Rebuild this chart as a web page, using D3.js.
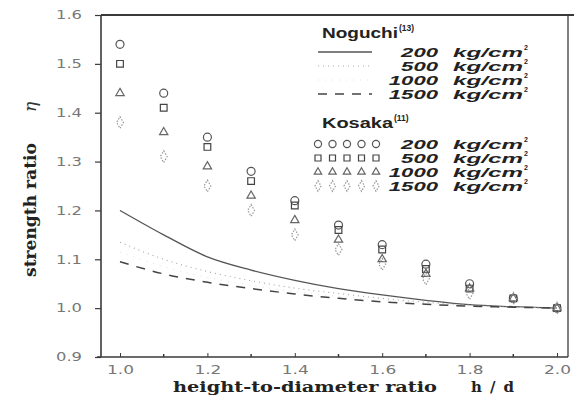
<!DOCTYPE html>
<html>
<head>
<meta charset="utf-8">
<script src="https://cdn.jsdelivr.net/npm/d3@7"></script>
<style>
  body { margin: 0; background: #fff; }
  svg { display: block; }
</style>
</head>
<body>
<svg id="chart" width="576" height="403"></svg>
<script>
// h/d values
const hd = [1.0, 1.1, 1.2, 1.3, 1.4, 1.5, 1.6, 1.7, 1.8, 1.9, 2.0];

// Kosaka measurements (strength ratio)
const kosaka200 = [1.54, 1.44, 1.35, 1.28, 1.22, 1.17, 1.13, 1.09, 1.05, 1.02, 1.0];
const kosaka500 = [1.50, 1.41, 1.33, 1.26, 1.21, 1.16, 1.12, 1.08, 1.04, 1.02, 1.0];
const kosaka1000 = [1.44, 1.36, 1.29, 1.23, 1.18, 1.14, 1.10, 1.07, 1.04, 1.02, 1.0];
const kosaka1500 = [1.38, 1.31, 1.25, 1.20, 1.15, 1.12, 1.09, 1.06, 1.03, 1.02, 1.0];

// Noguchi curves
const noguchi200 = [1.20, 1.15, 1.105, 1.078, 1.057, 1.04, 1.027, 1.016, 1.007, 1.003, 1.0];
const noguchi500 = [1.135, 1.10, 1.075, 1.056, 1.041, 1.03, 1.02, 1.012, 1.006, 1.002, 1.0];
const noguchi1000 = [1.115, 1.085, 1.063, 1.047, 1.034, 1.024, 1.016, 1.01, 1.005, 1.002, 1.0];
const noguchi1500 = [1.095, 1.07, 1.053, 1.04, 1.029, 1.02, 1.013, 1.008, 1.004, 1.002, 1.0];

const xTicks = [1.0, 1.2, 1.4, 1.6, 1.8, 2.0];
const xMinor = [1.1, 1.3, 1.5, 1.7, 1.9];
const yTicks = [0.9, 1.0, 1.1, 1.2, 1.3, 1.4, 1.5, 1.6];
const pressures = ['200', '500', '1000', '1500'];

const svg = d3.select('#chart');
const pLeft = 101, pRight = 568, pTop = 15, pBottom = 357;

const x = d3.scaleLinear().domain([1.0, 2.0]).range([120, 557]);
const y = d3.scaleLinear().domain([0.9, 1.6]).range([pBottom, pTop]);

const ink = '#3a3a3a';
const tickFont = 'DejaVu Sans, sans-serif';

// frame
svg.append('line').attr('x1', pLeft).attr('x2', pRight + 6).attr('y1', pTop).attr('y2', pTop)
  .attr('stroke', ink).attr('stroke-width', 2);
svg.append('line').attr('x1', pRight).attr('x2', pRight).attr('y1', pTop).attr('y2', pBottom)
  .attr('stroke', ink).attr('stroke-width', 1.3);
svg.append('line').attr('x1', pLeft).attr('x2', pLeft).attr('y1', pTop).attr('y2', pBottom)
  .attr('stroke', ink).attr('stroke-width', 1.6);
svg.append('line').attr('x1', pLeft - 4).attr('x2', pRight).attr('y1', pBottom).attr('y2', pBottom)
  .attr('stroke', ink).attr('stroke-width', 1.6);

// y axis
const yAxis = svg.append('g')
  .attr('transform', `translate(${pLeft},0)`)
  .call(d3.axisLeft(y).tickValues(yTicks).tickFormat(d3.format('.1f')).tickSize(6).tickPadding(19));
yAxis.select('.domain').remove();
yAxis.selectAll('.tick line').attr('stroke', ink).attr('stroke-width', 1.2);
yAxis.selectAll('.tick text').attr('fill', '#777').attr('font-family', tickFont)
  .attr('font-size', 12).attr('text-anchor', 'middle')
  .attr('textLength', 26).attr('lengthAdjust', 'spacingAndGlyphs')
  .attr('x', -32);

// x axis
const xAxis = svg.append('g')
  .attr('transform', `translate(0,${pBottom})`)
  .call(d3.axisBottom(x).tickValues(xTicks).tickFormat(d3.format('.1f')).tickSizeInner(-4).tickSizeOuter(0).tickPadding(8));
xAxis.select('.domain').remove();
xAxis.selectAll('.tick line').attr('stroke', ink).attr('stroke-width', 1);
xAxis.selectAll('.tick text').attr('fill', '#777').attr('font-family', tickFont)
  .attr('font-size', 12).attr('textLength', 27).attr('lengthAdjust', 'spacingAndGlyphs');
svg.append('g').selectAll('line').data(xMinor).join('line')
  .attr('x1', d => x(d)).attr('x2', d => x(d))
  .attr('y1', pBottom - 3).attr('y2', pBottom)
  .attr('stroke', ink).attr('stroke-width', 1.5);

// axis titles
const serif = 'DejaVu Serif, serif';
svg.append('text')
  .attr('x', 173).attr('y', 392)
  .attr('font-family', serif).attr('font-weight', 'bold')
  .attr('font-size', 15).attr('fill', '#222')
  .attr('textLength', 264).attr('lengthAdjust', 'spacingAndGlyphs')
  .text('height-to-diameter ratio');
svg.append('text')
  .attr('x', 471).attr('y', 392)
  .attr('font-family', serif).attr('font-weight', 'bold')
  .attr('font-size', 15).attr('fill', '#222')
  .attr('letter-spacing', 8)
  .text('h/d');

svg.append('text')
  .attr('transform', 'translate(36,277) rotate(-90)')
  .attr('font-family', serif).attr('font-weight', 'bold')
  .attr('font-size', 17).attr('fill', '#222')
  .attr('textLength', 134).attr('lengthAdjust', 'spacingAndGlyphs')
  .text('strength ratio');
svg.append('text')
  .attr('transform', 'translate(36,112) rotate(-90)')
  .attr('font-family', serif).attr('font-style', 'italic')
  .attr('font-size', 17).attr('fill', '#333')
  .text('η');

// Noguchi lines
const lineStyles = [
  { data: noguchi200, dash: null, color: '#555', width: 1.3 },
  { data: noguchi500, dash: '1,4', color: '#aaa', width: 1.2 },
  { data: noguchi1000, dash: '1,6', color: '#e2e2e2', width: 1 },
  { data: noguchi1500, dash: '9,8', color: '#444', width: 1.5 }
];
const line = d3.line().x((d, i) => x(hd[i])).y(d => y(d)).curve(d3.curveMonotoneX);
lineStyles.forEach(s => {
  svg.append('path').datum(s.data)
    .attr('d', line)
    .attr('fill', 'none')
    .attr('stroke', s.color)
    .attr('stroke-width', s.width)
    .attr('stroke-dasharray', s.dash);
});

// markers
const markerStyles = [
  { data: kosaka200, type: d3.symbolCircle, size: 50, color: '#555', dash: null },
  { data: kosaka500, type: d3.symbolSquare, size: 45, color: '#444', dash: null },
  { data: kosaka1000, type: d3.symbolTriangle, size: 30, color: '#666', dash: null },
  { data: kosaka1500, type: d3.symbolDiamond, size: 40, color: '#999', dash: '1.5,1.5' }
];
function drawMarker(g, s, cx, cy) {
  g.append('path')
    .attr('d', d3.symbol().type(s.type).size(s.size)())
    .attr('transform', `translate(${cx},${cy})`)
    .attr('fill', 'none')
    .attr('stroke', s.color)
    .attr('stroke-width', 1.2)
    .attr('stroke-dasharray', s.dash);
}
markerStyles.forEach(s => {
  const g = svg.append('g');
  s.data.forEach((v, i) => drawMarker(g, s, x(hd[i]), y(v)));
});

// legend
const legend = svg.append('g');
const boldSans = 'Liberation Sans, Arial, sans-serif';

function heading(yy, name, width, ref) {
  legend.append('text').attr('x', 322).attr('y', yy)
    .attr('font-family', boldSans).attr('font-weight', 'bold').attr('font-size', 14).attr('fill', '#222')
    .attr('textLength', width).attr('lengthAdjust', 'spacingAndGlyphs')
    .text(name);
  legend.append('text').attr('x', 322 + width + 1).attr('y', yy - 7)
    .attr('font-family', boldSans).attr('font-weight', 'bold').attr('font-size', 8.5).attr('fill', '#222')
    .text(ref);
}

function pressureRow(yy, p) {
  legend.append('text').attr('x', 438 - 12.3 * p.length).attr('y', yy + 5)
    .attr('font-family', boldSans).attr('font-weight', 'bold').attr('font-style', 'italic')
    .attr('font-size', 13).attr('fill', '#222')
    .attr('textLength', 12.3 * p.length).attr('lengthAdjust', 'spacingAndGlyphs')
    .text(p);
  legend.append('text').attr('x', 453).attr('y', yy + 5)
    .attr('font-family', boldSans).attr('font-weight', 'bold').attr('font-style', 'italic')
    .attr('font-size', 13).attr('fill', '#222')
    .attr('textLength', 70).attr('lengthAdjust', 'spacingAndGlyphs')
    .text('kg/cm');
  legend.append('text').attr('x', 524).attr('y', yy - 2)
    .attr('font-family', boldSans).attr('font-weight', 'bold')
    .attr('font-size', 7).attr('fill', '#222').text('2');
}

heading(38, 'Noguchi', 76, '(13)');
const noguchiRows = [52, 66, 80, 94];
lineStyles.forEach((s, i) => {
  legend.append('line')
    .attr('x1', 318).attr('x2', 372).attr('y1', noguchiRows[i]).attr('y2', noguchiRows[i])
    .attr('stroke', s.color).attr('stroke-width', s.width)
    .attr('stroke-dasharray', s.dash);
  pressureRow(noguchiRows[i], pressures[i]);
});

heading(128, 'Kosaka', 71, '(11)');
const kosakaRows = [144, 158, 172, 186];
markerStyles.forEach((s, i) => {
  const g = legend.append('g');
  d3.range(5).forEach(k => drawMarker(g, { ...s, size: s.size * 0.8 }, 318 + k * 14.5, kosakaRows[i]));
  pressureRow(kosakaRows[i], pressures[i]);
});
</script>
</body>
</html>
